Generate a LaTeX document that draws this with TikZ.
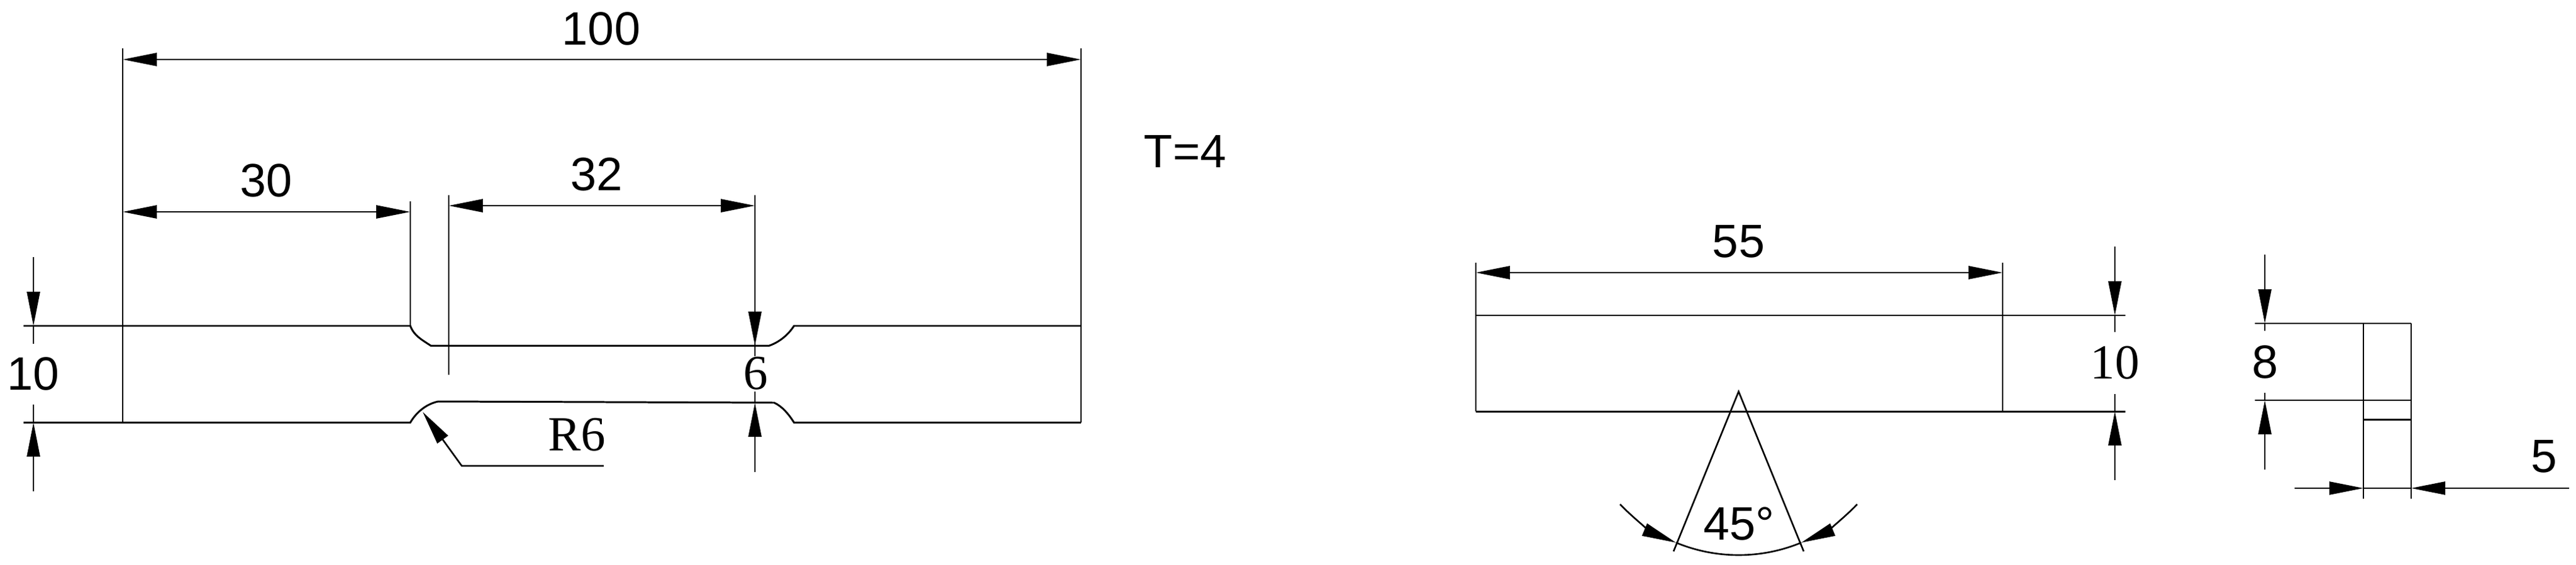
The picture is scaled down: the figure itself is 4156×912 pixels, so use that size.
\documentclass[tikz,border=0pt]{standalone}
\usepackage{fontspec}
\setmainfont{Liberation Sans}
\newfontfamily\dimserif{Liberation Serif}
\usetikzlibrary{arrows.meta}
\tikzset{
  part/.style={line width=0.85pt},
  thin line/.style={line width=0.75pt},
  dim/.style={line width=0.8pt,{Triangle[length=0.55cm,width=0.21cm]}-{Triangle[length=0.55cm,width=0.21cm]}},
  tipend/.style={line width=0.75pt,-{Triangle[length=0.55cm,width=0.21cm]}},
  dimsans/.style={inner sep=0pt,font=\fontsize{21.5}{21.5}\selectfont},
  dimroman/.style={inner sep=0pt,font=\fontsize{22.5}{22.5}\selectfont\dimserif}
}
\begin{document}
\begin{tikzpicture}[x=0.01cm,y=-0.01cm]
  \useasboundingbox (0,0) rectangle (4156,912) ;

  % tensile specimen
  \draw[part] (38,526) -- (662,526) .. controls (668,542) and (680,548) .. (695,558) -- (1241,558)
    .. controls (1258,552) and (1272,540) .. (1281,526) -- (1744,526) ;
  \draw[part] (38,682) -- (662,682) .. controls (672,665) and (688,652) .. (707,648) -- (1249,650)
    .. controls (1262,656) and (1272,668) .. (1281,682) -- (1744,682) ;
  \draw[thin line] (198,78) -- (198,682) ;
  \draw[thin line] (1744,78) -- (1744,682) ;
  \draw[thin line] (662,325) -- (662,526) ;
  \draw[thin line] (724,315) -- (724,605) ;
  \draw[thin line] (1218,315) -- (1218,575) ;

  \draw[dim] (198,96) -- (1744,96) ;
  \draw[dim] (198,342) -- (662,342) ;
  \draw[dim] (724,332) -- (1218,332) ;

  \draw[tipend] (54,415) -- (54,526) ;
  \draw[thin line] (54,526) -- (54,555) ;
  \draw[thin line] (54,653) -- (54,682) ;
  \draw[tipend] (54,793) -- (54,682) ;
  \draw[tipend] (1218,450) -- (1218,558) ;
  \draw[thin line] (1218,632) -- (1218,650) ;
  \draw[tipend] (1218,762) -- (1218,650) ;

  \draw[tipend] (974,752) -- (745,752) -- (682,665) ;

  \node[dimsans] (total) at (970,46) {100} ;
  \node[dimsans] (grip) at (430,291) {30} ;
  \node[dimsans] (gauge) at (963,281) {32} ;
  \node[dimsans] (thick) at (1912,244) {T=4} ;
  \node[dimsans] (gripw) at (54,603) {10} ;
  \node[dimroman] (gaugew) at (1219,603) {6} ;
  \node[dimroman] (radius) at (931,702) {R6} ;

  % charpy specimen, front view
  \draw[part] (2381,509) -- (3429,509) ;
  \draw[part] (2381,664) -- (3429,664) ;
  \draw[thin line] (2381,424) -- (2381,664) ;
  \draw[thin line] (3231,424) -- (3231,664) ;
  \draw[dim] (2381,440) -- (3231,440) ;

  \draw[tipend] (3412,398) -- (3412,509) ;
  \draw[thin line] (3412,509) -- (3412,536) ;
  \draw[thin line] (3412,636) -- (3412,664) ;
  \draw[tipend] (3412,775) -- (3412,664) ;

  \draw[thin line] (2700,890) -- (2805,632) -- (2910,890) ;
  \draw[thin line] (2805,632) ++(247.5:264 and -264) arc[start angle=247.5,end angle=292.5,x radius=264,y radius=-264] ;
  \draw[tipend] (2805,632) ++(223.6:264 and -264) arc[start angle=223.6,end angle=247.5,x radius=264,y radius=-264] ;
  \draw[tipend] (2805,632) ++(316.4:264 and -264) arc[start angle=316.4,end angle=292.5,x radius=264,y radius=-264] ;

  \node[dimsans] (length) at (2805,390) {55} ;
  \node[dimroman] (height) at (3412,586) {10} ;
  \node[dimsans] (notch) at (2806,845) {45\textdegree} ;

  % charpy specimen, side view
  \draw[part] (3638,522) -- (3890,522) ;
  \draw[thin line] (3638,646) -- (3890,646) ;
  \draw[part] (3813,677) -- (3890,677) ;
  \draw[thin line] (3813,522) -- (3813,805) ;
  \draw[thin line] (3890,522) -- (3890,805) ;

  \draw[tipend] (3654,411) -- (3654,522) ;
  \draw[thin line] (3654,522) -- (3654,534) ;
  \draw[thin line] (3654,634) -- (3654,646) ;
  \draw[tipend] (3654,758) -- (3654,646) ;

  \draw[tipend] (3702,788) -- (3813,788) ;
  \draw[thin line] (3813,788) -- (3890,788) ;
  \draw[tipend] (4145,788) -- (3890,788) ;

  \node[dimsans] (remain) at (3654,584) {8} ;
  \node[dimsans] (width) at (4104,737) {5} ;
\end{tikzpicture}
\end{document}
